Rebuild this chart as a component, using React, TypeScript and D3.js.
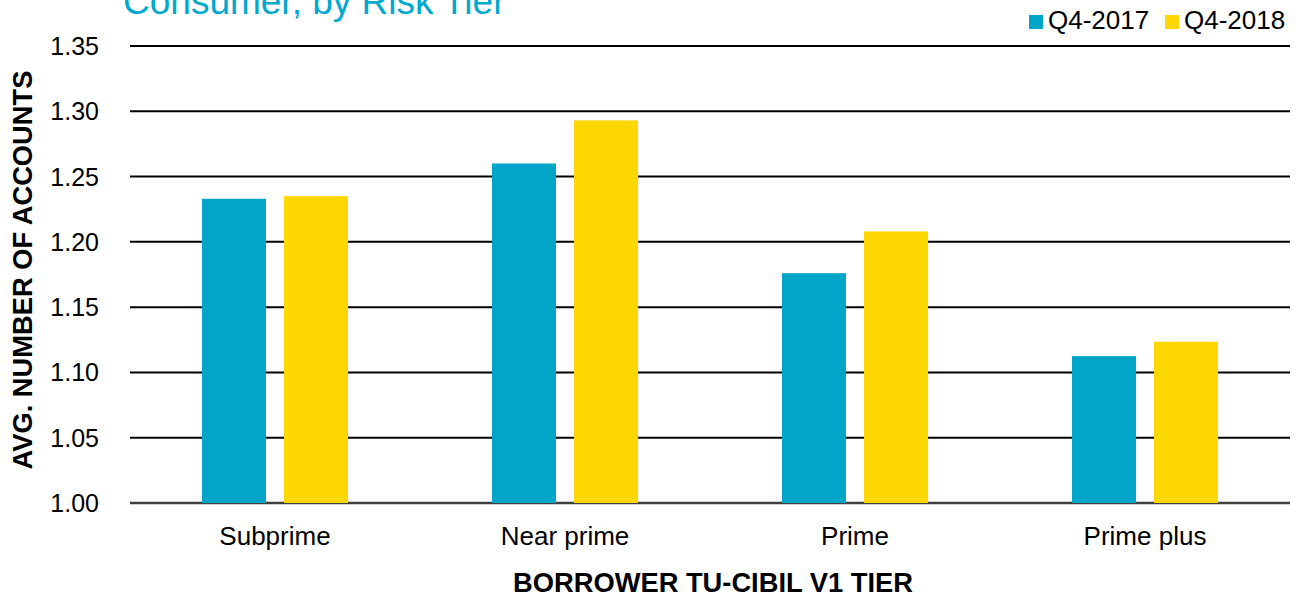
import React from "react";
import * as d3 from "d3";

const categories = ["Subprime", "Near prime", "Prime", "Prime plus"];
const seriesNames = ["Q4-2017", "Q4-2018"];
const q42017 = [1.233, 1.26, 1.176, 1.1125];
const q42018 = [1.235, 1.293, 1.208, 1.1235];
const yTicks = [1.0, 1.05, 1.1, 1.15, 1.2, 1.25, 1.3, 1.35];
const colors = ["#00A5C8", "#FCD700"];
const titleText = "Consumer, by Risk Tier";
const xTitle = "BORROWER TU-CIBIL V1 TIER";
const yTitle = "AVG. NUMBER OF ACCOUNTS";

const W = 1296;
const H = 599;
const FONT = "'Liberation Sans', Arial, Helvetica, sans-serif";

export default function App() {
  const left = 130;
  const right = 1290;
  const top = 46;
  const bottom = 503;

  const y = d3.scaleLinear().domain([1.0, 1.35]).range([bottom, top]);
  const x0 = d3.scaleBand<string>().domain(categories).range([left, right]).paddingInner(0);
  const x1 = d3
    .scaleBand<string>()
    .domain(seriesNames)
    .range([72, 218])
    .paddingInner(0.22);

  const data = [q42017, q42018];

  return (
    <svg
      width={W}
      height={H}
      style={{ position: "absolute", left: 0, top: 0, background: "#fff" }}
      fontFamily={FONT}
    >
      {/* title (cut off at top, as in the source) */}
      <text x={123} y={14} fontSize={37} fill="#00A9CE">
        {titleText}
      </text>

      {/* gridlines */}
      {yTicks.map((t) => (
        <line
          key={"g" + t}
          x1={left}
          x2={right}
          y1={y(t)}
          y2={y(t)}
          stroke={t === 1.0 ? "#404040" : "#000"}
          strokeWidth={t === 1.0 ? 2.5 : 2}
        />
      ))}

      {/* tick labels */}
      {yTicks.map((t) => (
        <text
          key={"t" + t}
          x={99}
          y={y(t)}
          fontSize={25}
          textAnchor="end"
          dominantBaseline="central"
          fill="#000"
        >
          {d3.format(".2f")(t)}
        </text>
      ))}

      {/* bars */}
      {categories.map((c, i) => (
        <g key={c} transform={`translate(${x0(c)},0)`}>
          {seriesNames.map((s, j) => (
            <rect
              key={s}
              x={x1(s)}
              y={y(data[j][i])}
              width={x1.bandwidth()}
              height={y(1.0) - y(data[j][i])}
              fill={colors[j]}
            />
          ))}
        </g>
      ))}

      {/* category labels */}
      {categories.map((c) => (
        <text
          key={"c" + c}
          x={(x0(c) as number) + x0.bandwidth() / 2}
          y={545}
          fontSize={26}
          textAnchor="middle"
          fill="#000"
        >
          {c}
        </text>
      ))}

      {/* axis titles */}
      <text x={713} y={592} fontSize={27.3} fontWeight="bold" textAnchor="middle" fill="#000">
        {xTitle}
      </text>
      <text
        transform={`translate(32,270) rotate(-90)`}
        fontSize={27.3}
        fontWeight="bold"
        textAnchor="middle"
        fill="#000"
      >
        {yTitle}
      </text>

      {/* legend */}
      {seriesNames.map((s, j) => {
        const lx = j === 0 ? 1029 : 1165;
        return (
          <g key={"l" + s}>
            <rect x={lx} y={15} width={14} height={14} fill={colors[j]} />
            <text x={lx + 19} y={29} fontSize={26} fill="#000">
              {s}
            </text>
          </g>
        );
      })}
    </svg>
  );
}
